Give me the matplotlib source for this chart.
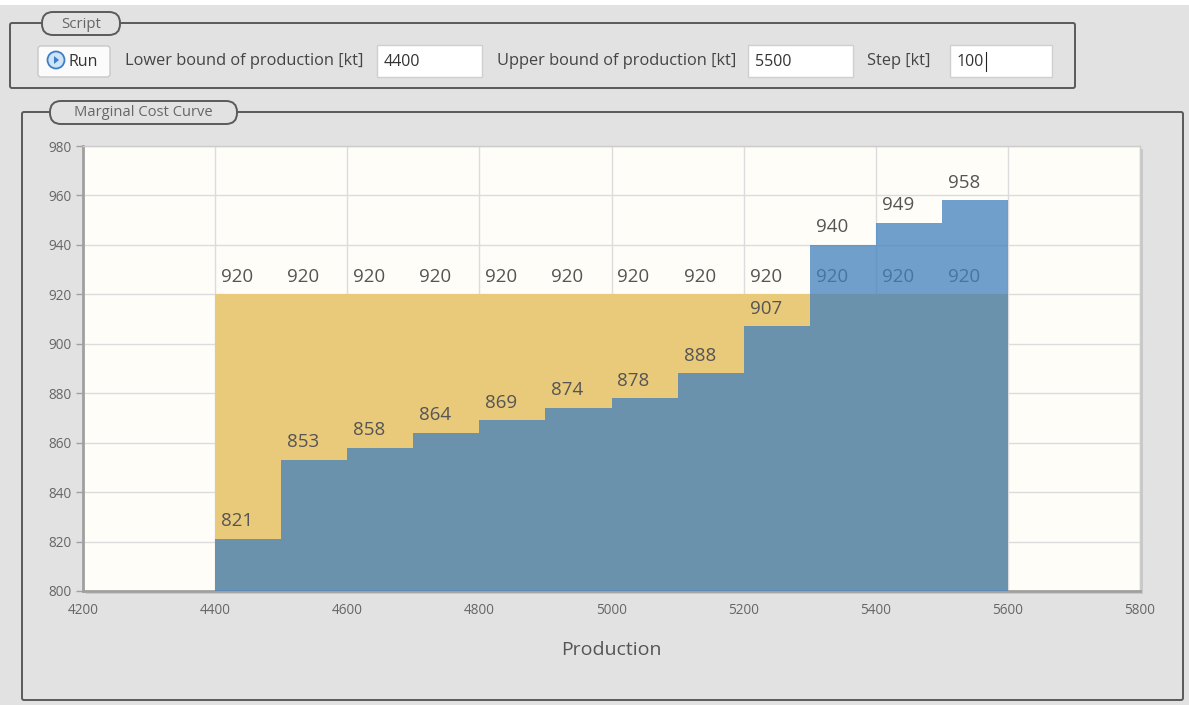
import matplotlib.pyplot as plt
from matplotlib.patches import FancyBboxPatch, Rectangle, Circle, Polygon

# data
production_start = [4400, 4500, 4600, 4700, 4800, 4900, 5000, 5100, 5200, 5300, 5400, 5500]
marginal_cost = [821, 853, 858, 864, 869, 874, 878, 888, 907, 940, 949, 958]
price_level = [920, 920, 920, 920, 920, 920, 920, 920, 920, 920, 920, 920]
step_kt = 100

x_ticks = [4200, 4400, 4600, 4800, 5000, 5200, 5400, 5600, 5800]
y_ticks = [800, 820, 840, 860, 880, 900, 920, 940, 960, 980]

BG = "#e2e2e2"
PLOT_BG = "#fffdf8"
YELLOW = "#e9c97a"
BLUE = "#4080bd"
TEXT = "#555555"
FONT = "Open Sans"

W, H = 1189, 705
fig = plt.figure(figsize=(W / 100, H / 100), dpi=100)
fig.patch.set_facecolor(BG)

# background axes in pixel coordinates for the form widgets
ui = fig.add_axes([0, 0, 1, 1], zorder=0)
ui.set_xlim(0, W)
ui.set_ylim(H, 0)
ui.axis("off")
ui.add_patch(Rectangle((0, 0), W, 5, color="white", lw=0))


def fieldset(x0, y0, x1, y1, label, lx0, lx1, size):
    ui.add_patch(FancyBboxPatch((x0, y0), x1 - x0, y1 - y0,
                                boxstyle="round,pad=0,rounding_size=2",
                                fill=False, ec="#5a5a5a", lw=1.4))
    ui.add_patch(FancyBboxPatch((lx0, y0 - 11), lx1 - lx0, 23,
                                boxstyle="round,pad=0,rounding_size=11",
                                fc=BG, ec="#5a5a5a", lw=1.4))
    ui.text((lx0 + lx1) / 2, y0 + 1, label, ha="center", va="center",
            fontsize=size, color="#666666", family=FONT)


def input_box(x0, x1, value):
    ui.add_patch(Rectangle((x0, 45), x1 - x0, 32, fc="white", ec="#cfcfcf", lw=1))
    ui.text(x0 + 7, 62, value, ha="left", va="center", fontsize=11.5,
            color="#333333", family=FONT)


fieldset(10, 23, 1075, 88, "Script", 42, 120, 10.8)
fieldset(22, 112, 1183, 700, "Marginal Cost Curve", 50, 237, 10.6)

# run button
ui.add_patch(FancyBboxPatch((38, 46), 72, 31, boxstyle="round,pad=0,rounding_size=3",
                            fc="#fbfbfb", ec="#c8c8c8", lw=1))
ui.add_patch(Circle((56, 60), 8.5, fc="#cfe3f7", ec="#3d7fc4", lw=1.3))
ui.add_patch(Polygon([[54, 56], [54, 64], [59, 60]], closed=True, fc="#3d7fc4", lw=0))
ui.text(69, 62, "Run", ha="left", va="center", fontsize=11.5, color="#333333", family=FONT)

ui.text(125, 61, "Lower bound of production [kt]", ha="left", va="center",
        fontsize=11.8, color="#444444", family=FONT)
input_box(377, 482, "4400")
ui.text(497, 61, "Upper bound of production [kt]", ha="left", va="center",
        fontsize=11.8, color="#444444", family=FONT)
input_box(748, 853, "5500")
ui.text(867, 61, "Step [kt]", ha="left", va="center",
        fontsize=11.8, color="#444444", family=FONT)
input_box(950, 1052, "100")
ui.plot([986, 986], [52, 71], color="#222222", lw=0.8)

# soft shadow behind the plot area
ui.add_patch(Rectangle((86, 149), 1057, 445, fc="#c9c9c9", lw=0))

# chart axes
ax = fig.add_axes([83 / W, 1 - 591 / H, (1140 - 83) / W, (591 - 146) / H], zorder=1)
ax.set_facecolor(PLOT_BG)
ax.set_xlim(4200, 5800)
ax.set_ylim(800, 980)
ax.set_xticks(x_ticks)
ax.set_yticks(y_ticks)
ax.grid(True, color="#dcdcdc", lw=1)
ax.set_axisbelow(True)

edges = production_start + [production_start[-1] + step_kt]
ax.fill_between(edges, 800, price_level + [price_level[-1]], step="post",
                color=YELLOW, lw=0, zorder=2)
ax.fill_between(edges, 800, marginal_cost + [marginal_cost[-1]], step="post",
                color=BLUE, alpha=0.75, lw=0, zorder=4)

for x, v in zip(production_start, price_level):
    ax.text(x + 9, v + 3.5, f"{v}", ha="left", va="bottom", fontsize=13.5,
            color=TEXT, family=FONT, zorder=3)
for x, v in zip(production_start, marginal_cost):
    ax.text(x + 9, v + 3.5, f"{v}", ha="left", va="bottom", fontsize=13.5,
            color=TEXT, family=FONT, zorder=5)

for side in ["top", "right"]:
    ax.spines[side].set_color("#cccccc")
    ax.spines[side].set_linewidth(1)
for side in ["left", "bottom"]:
    ax.spines[side].set_color("#a0a0a0")
    ax.spines[side].set_linewidth(2)
ax.tick_params(axis="both", colors="#a0a0a0", labelcolor="#666666",
               labelsize=9.8, length=5, width=1)
ax.tick_params(axis="x", length=0, pad=9)
for lbl in ax.get_xticklabels() + ax.get_yticklabels():
    lbl.set_family(FONT)
ax.set_xlabel("Production", fontsize=14, color=TEXT, family=FONT, labelpad=16)

fig.savefig("out.png", dpi=100, facecolor=BG)
